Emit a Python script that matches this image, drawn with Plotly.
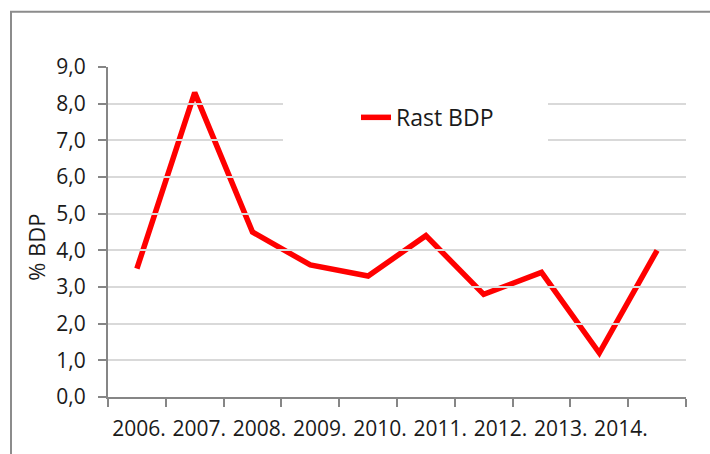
import plotly.graph_objects as go

# ---- data ----
categories = ["2006", "2007", "2008", "2009", "2010", "2011", "2012", "2013", "2014", "2015"]
gdp_growth = [3.5, 8.3, 4.5, 3.6, 3.3, 4.4, 2.8, 3.4, 1.2, 4.0]
tick_labels = ["2006.", "2007.", "2008.", "2009.", "2010.", "2011.", "2012.", "2013.", "2014."]
y_ticks = [0, 1, 2, 3, 4, 5, 6, 7, 8, 9]
series_name = "Rast BDP"
y_title = "% BDP"

W, H = 710, 454
L, R, T, B = 108, 24, 67, 53
pw, ph = W - L - R, H - T - B


def px_x(p):
    return (p - L) / pw


def px_y(p):
    return (H - B - p) / ph


FONT = "Open Sans"
TXT = "#1a1a1a"
AX = "#868686"
GRID = "#d9d9d9"

fig = go.Figure()
fig.add_trace(go.Scatter(
    x=categories, y=gdp_growth, mode="lines", name=series_name,
    line=dict(color="#ff0000", width=5.5, shape="linear"),
    xaxis="x", yaxis="y", hoverinfo="skip",
))
# helper trace that places the category labels on the label axis
fig.add_trace(go.Scatter(
    x=tick_labels, y=[None] * len(tick_labels), mode="lines",
    xaxis="x2", yaxis="y", showlegend=False, hoverinfo="skip",
))

fig.update_layout(
    width=W, height=H,
    margin=dict(l=L, r=R, t=T, b=B),
    paper_bgcolor="white", plot_bgcolor="rgba(0,0,0,0)",
    separators=",.",
    font=dict(family=FONT, size=21, color=TXT),
    showlegend=True,
    legend=dict(
        x=px_x(356), y=px_y(118), xanchor="left", yanchor="middle",
        bgcolor="rgba(0,0,0,0)", borderwidth=0,
        font=dict(family=FONT, size=23, color=TXT),
    ),
    xaxis=dict(
        type="category", categoryorder="array", categoryarray=categories,
        range=[-0.5, len(categories) - 0.5],
        showticklabels=False, showgrid=False, zeroline=False,
        showline=True, linecolor=AX, linewidth=2,
        ticks="outside", tickson="boundaries", ticklen=8, tickwidth=2, tickcolor=AX,
        domain=[0, 1],
    ),
    xaxis2=dict(
        type="category", categoryorder="array", categoryarray=tick_labels,
        range=[-0.5, len(tick_labels) - 0.5],
        anchor="y", side="bottom",
        domain=[px_x(109), px_x(651)],
        showgrid=False, zeroline=False, showline=False, ticks="",
        ticklabelstandoff=17,
        tickfont=dict(family=FONT, size=21, color=TXT),
    ),
    yaxis=dict(
        range=[0, 9], tickvals=y_ticks, tickformat=".1f",
        showgrid=True, gridcolor=GRID, gridwidth=2,
        zeroline=False,
        showline=True, linecolor=AX, linewidth=2,
        ticks="outside", ticklen=8, tickwidth=2, tickcolor=AX,
        ticklabelstandoff=8,
        tickfont=dict(family=FONT, size=21, color=TXT),
    ),
    shapes=[
        # chart border (extends past the right and bottom edges)
        dict(type="rect", xref="paper", yref="paper",
             x0=px_x(11), x1=px_x(W + 20), y0=px_y(H + 20), y1=px_y(11),
             line=dict(color="#8c8c8c", width=2), fillcolor="rgba(0,0,0,0)", layer="below"),
        # legend box background (white, hides gridlines behind the legend)
        dict(type="rect", xref="paper", yref="paper",
             x0=px_x(283), x1=px_x(548), y0=px_y(152), y1=px_y(84),
             line=dict(width=0), fillcolor="white", layer="above"),
    ],
    annotations=[
        dict(text=y_title, textangle=-90, xref="paper", yref="paper",
             x=px_x(36), y=px_y(250), xanchor="center", yanchor="middle",
             showarrow=False, font=dict(family=FONT, size=22, color=TXT)),
    ],
)

fig.write_html("out.html")
